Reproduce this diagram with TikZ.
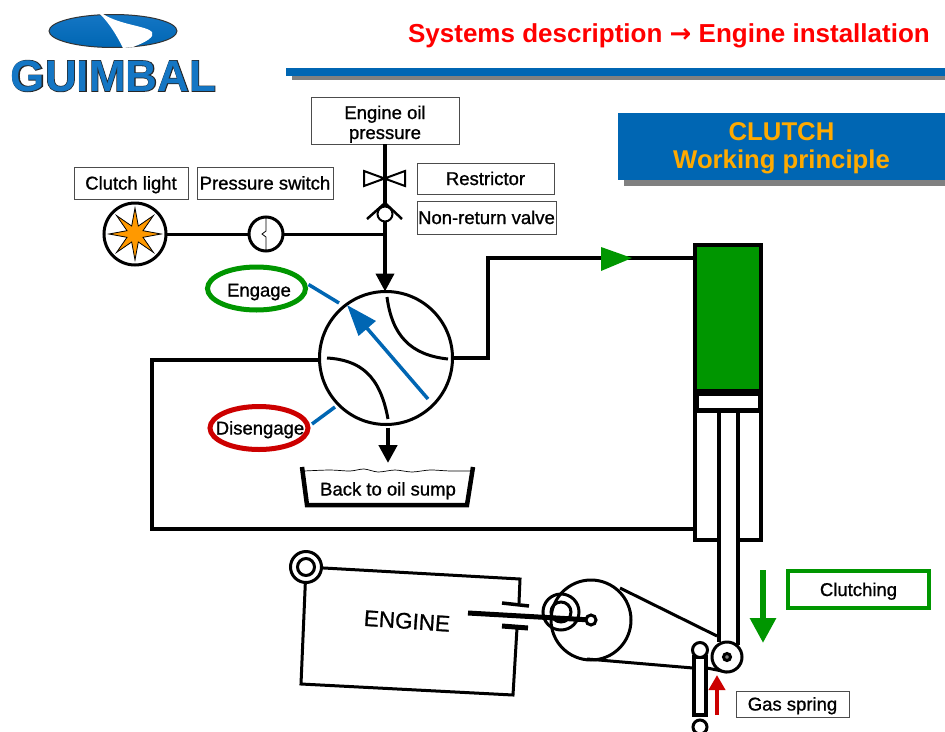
\documentclass[tikz,border=0pt]{standalone}
\usepackage{fontspec}
\setmainfont{Liberation Sans}
\newfontfamily\labelfont[FakeBold=1]{Liberation Sans}
\newfontfamily\logoedge[FakeBold=3]{Liberation Sans Bold}
\newfontfamily\logofont{Liberation Sans Bold}
\newfontfamily\arrowfont{DejaVu Sans Bold}
\usetikzlibrary{positioning, shapes.geometric, arrows.meta, calc}

\definecolor{guimbalblue}{RGB}{0,102,179}
\definecolor{logoblue}{RGB}{20,118,196}
\definecolor{titlered}{RGB}{255,0,0}
\definecolor{titleorange}{RGB}{255,170,0}
\definecolor{chambergreen}{RGB}{0,150,0}
\definecolor{lightorange}{RGB}{255,153,0}
\definecolor{engagered}{RGB}{204,0,0}
\definecolor{shadowgray}{RGB}{128,128,128}

\begin{document}
\begin{tikzpicture}[
    x=1pt, y=-1pt,
    % Styles
    tagbox/.style={ % Thin box for a label
        rectangle,
        draw=black!70,
        line width=0.9pt,
        fill=white,
        inner sep=0pt,
        outer sep=0pt,
        align=center,
        font=\labelfont\fontsize{18.5}{20}\selectfont
    },
    tag/.style={ % One line in a thin box
        tagbox,
        text height=13pt,
        text depth=0pt
    },
    oval/.style={
        ellipse,
        draw,
        line width=5pt,
        fill=white,
        inner sep=0pt,
        minimum width=98pt,
        minimum height=43pt
    },
    pipe/.style={
        line width=4pt
    },
    wire/.style={
        line width=3pt
    },
    lever/.style={ % Blue control lever
        line width=3.5pt,
        draw=guimbalblue
    },
    flow/.style={ % Heavy arrow with a fixed head
        pipe,
        -{Triangle[length=18pt, width=18pt]}
    },
    plain/.style={
        font=\labelfont\fontsize{18.5}{20}\selectfont,
        text height=13pt,
        text depth=0pt,
        inner sep=0pt
    },
    wheel/.style={
        circle,
        draw,
        line width=3pt,
        inner sep=0pt,
        outer sep=0pt
    }
]

    % Logo
    \node[ellipse, draw=black!80, line width=1pt, top color=logoblue, bottom color=guimbalblue,
        minimum width=128pt, minimum height=33pt, inner sep=0pt] (logodisc) at (113,31) {};
    \fill[white] (100,14) .. controls (110,24) and (117,36) .. (123,48) -- (133,47)
        .. controls (146,42) and (155,37) .. (152,32) .. controls (147,26) and (120,25) .. (103,14) -- cycle;
    \node[inner sep=0pt, text=black!85, font=\logoedge\fontsize{44}{44}\selectfont] (logoedge) at (113.5,76) {GUIMBAL};
    \node[inner sep=0pt, text=logoblue, font=\logofont\fontsize{44}{44}\selectfont] (logotext) at (113.5,76) {GUIMBAL};

    % Title with its rule
    \node[anchor=east, inner sep=0pt, text=titlered, font=\bfseries\fontsize{26}{30}\selectfont] (title) at (930,36) {Systems description {\arrowfont→} Engine installation};
    \fill[shadowgray] (292,72) rectangle (945,80);
    \fill[guimbalblue] (286,68) rectangle (945,76);

    % Banner
    \fill[shadowgray] (624,119) rectangle (945,186);
    \node[rectangle, fill=guimbalblue, minimum width=327pt, minimum height=67pt, inner sep=0pt,
        align=center, text=titleorange, text depth=0pt, font=\bfseries\fontsize{25.7}{28}\selectfont] (banner) at (781.5,146) {CLUTCH\\Working principle};

    % Boxes along the oil feed
    \node[tagbox, text depth=0pt, minimum width=148pt, minimum height=47pt] (pressure) at (385,120.5) {\rule{0pt}{17pt}Engine oil\\pressure};
    \node[tag, minimum width=114pt, minimum height=32pt] (lightlabel) at (131,183) {Clutch light};
    \node[tag, minimum width=136pt, minimum height=32pt] (switchlabel) at (265,183) {Pressure switch};
    \node[tag, minimum width=137pt, minimum height=31pt] (restrictor) at (485.5,178.5) {Restrictor};
    \node[tag, minimum width=139pt, minimum height=33pt] (nonreturn) at (486.5,217.5) {Non-return valve};

    % Selector valve
    \node[wheel, fill=white, minimum size=133pt] (valve) at (386,358) {};
    \draw[line width=3pt] (387,297) .. controls (392,335) and (410,355) .. (448,359);
    \draw[line width=3pt] (327,358) .. controls (360,360) and (380,375) .. (388,419);

    % Oil feed, down to the valve
    \coordinate (tee) at (385,234);
    \draw[flow] (pressure.south) -- (pressure.south |- valve.north);
    \draw[line width=2pt] (364,171) -- (405,186) -- (405,171) -- (364,186) -- cycle;
    \draw[line width=2.5pt] (367,219) -- (385,203) -- (402,219);
    \node[wheel, line width=2pt, fill=white, minimum size=15pt] (check) at (385,214) {};

    % Light and switch on the branch
    \node[wheel, fill=white, minimum size=62pt] (light) at (135,234) {};
    \node[star, star points=8, star point ratio=3, draw, line width=0.8pt, fill=lightorange, minimum size=52pt, inner sep=0pt] (lightstar) at (135,234) {};
    \node[wheel, fill=white, minimum size=34pt] (switch) at (266,234) {};
    \draw[line width=0.8pt] (266,218) -- (266,231) -- (262,234) -- (266,237) -- (266,250);
    \draw[wire] (light) -- (switch);
    \draw[wire] (switch) -- (tee);

    % Engage and disengage levers
    \node[oval, draw=chambergreen] (engage) at (256.5,288.5) {};
    \node[plain] (engagetext) at (259,290) {Engage};
    \node[oval, draw=engagered] (disengage) at (259,428) {};
    \node[plain] (disengagetext) at (260,428) {Disengage};
    \coordinate (engagetip) at (339,303);
    \coordinate (disengagetip) at (335,407);
    \coordinate (leverstart) at (428,399);
    \coordinate (levertip) at (347,305);
    \draw[lever] (engage) ++(52,-4) -- (engagetip);
    \draw[lever] (disengage) ++(53,-4) -- (disengagetip);
    \draw[lever, -{Triangle[length=31pt, width=22pt]}] (leverstart) -- (levertip);

    % Sump
    \coordinate (sumpa) at (302,467);
    \coordinate (sumpb) at (307,505);
    \coordinate (sumpc) at (467,505);
    \coordinate (sumpd) at (473,467);
    \draw[line width=4.5pt] (sumpa) -- (sumpb) -- (sumpc) -- (sumpd);
    \draw[line width=0.7pt] plot[smooth] coordinates {(304,471) (330,470) (350,471) (364,469) (378,472) (395,470) (412,472) (430,470) (450,471) (472,471)};
    \node[plain] (sumptext) at (388,489) {Back to oil sump};
    \draw[flow, line width=4.5pt] (valve.south) ++(2,3) -- (388,463);

    % Clutch cylinder
    \node[rectangle, draw, line width=4pt, fill=chambergreen, minimum width=66pt, minimum height=146pt, inner sep=0pt, outer sep=0pt] (chamber) at (728,318) {};
    \coordinate (cylbl) at (695,540);
    \coordinate (cylbr) at (761,540);
    \coordinate (rodl) at (719,540);
    \coordinate (rodr) at (738,540);
    \draw[pipe] (rodl) -- (cylbl) -- (chamber.south west);
    \draw[pipe] (rodr) -- (cylbr) -- (chamber.south east);
    \node[rectangle, draw, line width=5pt, fill=white, minimum width=64pt, minimum height=17pt, inner sep=0pt, outer sep=0pt] (piston) at (728,402) {};

    % Pipes to the cylinder
    \coordinate (pipetop) at (488,258);
    \coordinate (pipemid) at (488,358);
    \coordinate (pipeleft) at (152,360);
    \coordinate (pipelow) at (152,529);
    \draw[pipe] (valve.east) -- (pipemid) -- (pipetop) -- (chamber.west |- pipetop);
    \draw[pipe] (valve.west |- pipeleft) -- (pipeleft) -- (pipelow) -- (cylbl |- pipelow);
    \fill[chambergreen] (601,247) -- (632,258) -- (601,271) -- cycle;

    % Belt drive
    \node[wheel, minimum size=80pt] (bigwheel) at (591,620) {};
    \node[wheel, minimum size=36pt] (ringout) at (561,612) {};
    \node[wheel, minimum size=20pt] (ringin) at (561,612) {};
    \coordinate (belta) at (620,588);
    \coordinate (beltb) at (717,636);
    \coordinate (beltc) at (587,659);
    \coordinate (beltd) at (727,672);
    \draw[wire] (belta) -- (beltb);
    \draw[wire] (beltc) -- (693,668) (707,668) -- (beltd);
    \draw[pipe] (rodl |- piston.south) -- (719,642);
    \draw[pipe] (rodr |- piston.south) -- (738,645);
    \node[wheel, fill=white, minimum size=30pt] (roller) at (727,657) {};
    \node[wheel, fill=gray, minimum size=7pt] (rollerpin) at (727,657) {};

    % Engine
    \node[wheel, fill=white, minimum size=31pt] (mount) at (306,567) {};
    \node[wheel, minimum size=17pt] (mountin) at (306,567) {};
    \coordinate (enga) at (520,579);
    \coordinate (engb) at (519,603);
    \coordinate (engc) at (517,628);
    \coordinate (engd) at (513,695);
    \coordinate (enge) at (301,684);
    \draw[wire] (mount) -- (enga) -- (engb);
    \draw[wire] (engc) -- (engd) -- (enge) -- (mount);
    \draw[line width=3.5pt] (502,603) -- (529,606);
    \draw[line width=5pt] (502,626) -- (528,628);
    \node[inner sep=0pt, rotate=-4, font=\labelfont\fontsize{22.5}{24}\selectfont] (enginetext) at (407,621) {ENGINE};
    \node[wheel, fill=white, minimum size=10pt] (shaftend) at (591,620) {};
    \coordinate (shaftstart) at (468,613);
    \draw[line width=5pt] (shaftstart) -- (shaftend);

    % Gas spring, cut by the page edge
    \node[rectangle, draw, line width=3.5pt, fill=white, minimum width=12pt, minimum height=58pt, inner sep=0pt] (spring) at (700,686) {};
    \node[wheel, fill=white, minimum size=15pt] (springtop) at (700,650) {};
    \begin{scope}
        \clip (680,712) rectangle (720,731);
        \node[wheel, fill=white, minimum size=14pt] (springlow) at (700,727) {};
    \end{scope}
    \draw[line width=4pt, engagered, -{Triangle[length=15pt, width=16pt]}] (717,715) -- (717,675);
    \node[tag, minimum width=113pt, minimum height=26pt] (gaslabel) at (792.5,704) {Gas spring};

    % Clutching
    \draw[line width=6pt, chambergreen, -{Triangle[length=25pt, width=25pt]}] (763,570) -- (763,643);
    \node[rectangle, draw=chambergreen, line width=4.5pt, fill=white, minimum width=141pt, minimum height=37pt, inner sep=0pt,
        text height=13pt, text depth=0pt, font=\labelfont\fontsize{18.5}{20}\selectfont] (clutching) at (858.5,589.5) {Clutching};

    \useasboundingbox (0,0) rectangle (945,731);
\end{tikzpicture}
\end{document}
